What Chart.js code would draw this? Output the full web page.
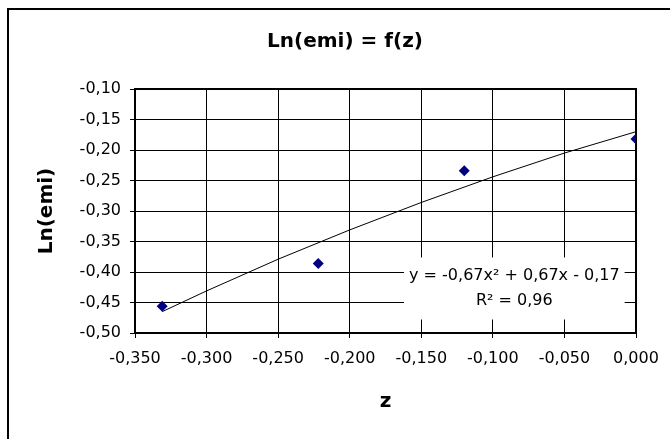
<!DOCTYPE html>
<html>
<head>
<meta charset="utf-8">
<script src="https://cdn.jsdelivr.net/npm/chart.js@4/dist/chart.umd.min.js"></script>
<style>
  html, body { margin: 0; padding: 0; overflow: hidden; background: #fff; }
  #wrap { width: 670px; height: 439px; overflow: hidden; }
</style>
</head>
<body>
<div id="wrap"><canvas id="chart" width="690" height="460"></canvas></div>
<script>
// measured points
const zValues = [-0.331, -0.222, -0.120, 0.000];
const lnValues = [-0.456, -0.386, -0.234, -0.182];

// trendline
const trendZ = [-0.331, -0.300, -0.250, -0.200, -0.150, -0.100, -0.050, 0.000];
const trendLn = [-0.465, -0.431, -0.379, -0.331, -0.286, -0.244, -0.205, -0.170];

const eqLines = ['y = -0,67x² + 0,67x - 0,17', 'R² = 0,96'];
const eqAnchor = [-0.085, -0.427];

const FONT = '"DejaVu Sans", sans-serif';

function comma(v, d) {
  if (Math.abs(v) < 1e-9) v = 0;
  return v.toFixed(d).replace('.', ',');
}

const framePlugin = {
  id: 'frame',
  beforeDraw(chart) {
    const ctx = chart.ctx;
    ctx.save();
    ctx.fillStyle = '#fff';
    ctx.fillRect(0, 0, chart.width, chart.height);
    ctx.strokeStyle = '#000';
    ctx.lineWidth = 2;
    ctx.strokeRect(8, 9, 674, 442);
    ctx.restore();
  },
  beforeDatasetsDraw(chart) {
    const ctx = chart.ctx, a = chart.chartArea;
    ctx.save();
    ctx.strokeStyle = '#000';
    ctx.lineWidth = 2;
    ctx.strokeRect(a.left, a.top, a.right - a.left, a.bottom - a.top);
    ctx.restore();
  }
};

const equationPlugin = {
  id: 'equation',
  afterDatasetsDraw(chart) {
    const ctx = chart.ctx;
    const x = chart.scales.x.getPixelForValue(eqAnchor[0]);
    const y = chart.scales.y.getPixelForValue(eqAnchor[1]);
    ctx.save();
    ctx.font = '16px ' + FONT;
    const lh = 25;
    const w = Math.max(...eqLines.map(t => ctx.measureText(t).width)) + 10;
    const h = lh * eqLines.length + 12;
    ctx.fillStyle = '#fff';
    ctx.fillRect(x - w / 2, y - h / 2, w, h);
    ctx.fillStyle = '#000';
    ctx.textAlign = 'center';
    ctx.textBaseline = 'middle';
    eqLines.forEach((t, i) => {
      ctx.fillText(t, x, y + (i - (eqLines.length - 1) / 2) * lh);
    });
    ctx.restore();
  }
};

new Chart(document.getElementById('chart'), {
  type: 'scatter',
  data: {
    datasets: [
      {
        label: 'Ln(emi)',
        data: zValues.map((z, i) => ({x: z, y: lnValues[i]})),
        pointStyle: 'rectRot',
        pointRadius: 5.5,
        backgroundColor: '#000080',
        borderColor: '#000080',
        borderWidth: 0
      },
      {
        label: 'trend',
        data: trendZ.map((z, i) => ({x: z, y: trendLn[i]})),
        showLine: true,
        pointRadius: 0,
        borderColor: '#000',
        borderWidth: 1
      }
    ]
  },
  options: {
    responsive: false,
    animation: false,
    devicePixelRatio: 1,
    layout: {padding: 0},
    plugins: {
      legend: {display: false},
      tooltip: {enabled: false},
      title: {
        display: true,
        text: 'Ln(emi) = f(z)',
        color: '#000',
        font: {family: FONT, size: 20, weight: 'bold'},
        padding: {top: 30, bottom: 35}
      }
    },
    scales: {
      x: {
        type: 'linear',
        min: -0.35,
        max: 0,
        afterFit(scale) { scale.height = 127; },
        ticks: {
          stepSize: 0.05,
          color: '#000',
          font: {family: FONT, size: 16},
          padding: 11,
          maxRotation: 0,
          callback: v => comma(v, 3)
        },
        grid: {color: '#000', lineWidth: 1, tickLength: 5, tickColor: '#000'},
        border: {color: '#000', width: 2},
        title: {
          display: true,
          text: 'z',
          color: '#000',
          font: {family: FONT, size: 20, weight: 'bold'},
          padding: {top: 0, bottom: 46}
        }
      },
      y: {
        type: 'linear',
        min: -0.5,
        max: -0.1,
        afterFit(scale) { scale.width = 135; },
        ticks: {
          stepSize: 0.05,
          color: '#000',
          font: {family: FONT, size: 16},
          padding: 9,
          callback: v => comma(v, 2)
        },
        grid: {color: '#000', lineWidth: 1, tickLength: 5, tickColor: '#000'},
        border: {color: '#000', width: 2},
        title: {
          display: true,
          text: 'Ln(emi)',
          color: '#000',
          font: {family: FONT, size: 20, weight: 'bold'},
          padding: {top: 35, bottom: 0}
        }
      },
      // empty right-hand strip so the plot ends where the original does
      yRight: {
        type: 'linear',
        position: 'right',
        afterFit(scale) { scale.width = 54; },
        ticks: {display: false},
        grid: {display: false, drawTicks: false},
        border: {display: false}
      }
    }
  },
  plugins: [framePlugin, equationPlugin]
});
</script>
</body>
</html>
